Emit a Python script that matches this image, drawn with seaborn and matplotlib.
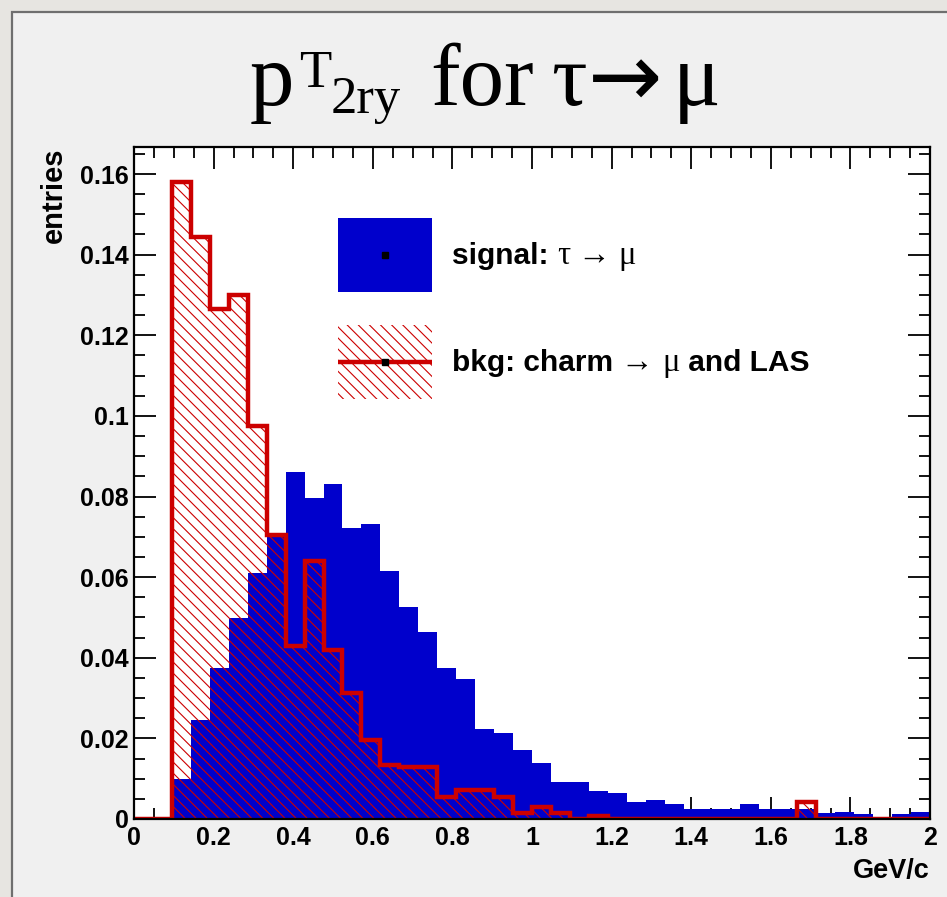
import numpy as np
import pandas as pd
import matplotlib
matplotlib.use("Agg")
import matplotlib.pyplot as plt
import seaborn as sns
from matplotlib.patches import Rectangle
from matplotlib.lines import Line2D
from matplotlib.ticker import MultipleLocator, FixedLocator, FuncFormatter

# ---------------- data ----------------
n_bins = 42
x_range = (0.0, 2.0)

signal = [0.0, 0.0, 0.0099, 0.0246, 0.0375, 0.0498, 0.0610, 0.0700, 0.0862, 0.0797,
          0.0831, 0.0723, 0.0732, 0.0615, 0.0527, 0.0463, 0.0375, 0.0347, 0.0223, 0.0213,
          0.0170, 0.0140, 0.0093, 0.0093, 0.0070, 0.0065, 0.0041, 0.0047, 0.0036, 0.0024,
          0.0024, 0.0024, 0.0036, 0.0024, 0.0024, 0.0024, 0.0014, 0.0018, 0.0012, 0.0,
          0.0012, 0.0018]

background = [0.0, 0.0, 0.1580, 0.1443, 0.1265, 0.1300, 0.0975, 0.0705, 0.0430, 0.0640,
              0.0418, 0.0312, 0.0195, 0.0135, 0.0128, 0.0128, 0.0055, 0.0072, 0.0072, 0.0055,
              0.0014, 0.0030, 0.0014, 0.0, 0.0008, 0.0, 0.0, 0.0, 0.0, 0.0,
              0.0, 0.0, 0.0, 0.0, 0.0, 0.0043, 0.0, 0.0, 0.0, 0.0,
              0.0, 0.0]

x_ticks = [0, 0.2, 0.4, 0.6, 0.8, 1.0, 1.2, 1.4, 1.6, 1.8, 2.0]
y_ticks = [0, 0.02, 0.04, 0.06, 0.08, 0.10, 0.12, 0.14, 0.16]
y_max = 0.1667

x_label = "GeV/c"
y_label = "entries"
# legend labels as (text, is_symbol) pieces
series_labels = [
    [("signal: ", False), ("τ", True), (" → ", True), ("μ", True)],
    [("bkg: charm ", False), ("→ ", True), ("μ", True), (" and LAS", False)],
]

# ---------------- style ----------------
BLUE = "#0000cc"
RED = "#cc0000"
HATCH = "\\\\\\"

sns.set_style("ticks")
plt.rcParams.update({
    "font.family": ["Liberation Sans", "DejaVu Sans"],
    "text.color": "black",
    "axes.labelcolor": "black",
    "xtick.color": "black",
    "ytick.color": "black",
    "hatch.linewidth": 0.8,
    "hatch.color": RED,
})

edges = np.linspace(x_range[0], x_range[1], n_bins + 1)
centers = 0.5 * (edges[:-1] + edges[1:])
df = pd.DataFrame({"pt": centers, "signal": signal, "bkg": background})

W, H = 947, 897
def fx(px):
    return px / W
def fy(py):
    return 1 - py / H

fig = plt.figure(figsize=(W / 100, H / 100), dpi=100, facecolor="#e7e5e1")
panel = Rectangle((fx(12), -0.02), 1.1, 1.02 - 12 / H, transform=fig.transFigure,
                  facecolor="#f0f0f0", edgecolor="#6f6f6f", linewidth=1.6, zorder=-5)
fig.patches.append(panel)

ax = fig.add_axes([fx(134), fy(819), 796 / W, 672 / H])
ax.set_facecolor("white")

hist_kws = dict(data=df, x="pt", bins=n_bins, binrange=x_range, element="step", ax=ax)
# signal: filled blue histogram
sns.histplot(weights="signal", fill=True, color=BLUE, facecolor=BLUE, edgecolor=BLUE,
             linewidth=0, alpha=1, **hist_kws)
# background: hatched fill
sns.histplot(weights="bkg", fill=True, color=RED, facecolor="none", edgecolor=RED,
             hatch=HATCH, linewidth=0, alpha=1, **hist_kws)
# background: outline
sns.histplot(weights="bkg", fill=False, color=RED, linewidth=3.2, alpha=1,
             solid_joinstyle="miter", **hist_kws)

ax.set_xlim(x_range)
ax.set_ylim(0, y_max)

fmt = FuncFormatter(lambda v, p: f"{v:g}")
ax.xaxis.set_major_locator(FixedLocator(x_ticks))
ax.yaxis.set_major_locator(FixedLocator(y_ticks))
ax.xaxis.set_major_formatter(fmt)
ax.yaxis.set_major_formatter(fmt)
ax.xaxis.set_minor_locator(MultipleLocator(0.05))
ax.yaxis.set_minor_locator(MultipleLocator(0.005))
ax.tick_params(which="both", direction="in", top=True, right=True, width=1.3, color="black")
ax.tick_params(which="major", length=16)
ax.tick_params(which="minor", length=8)
ax.tick_params(axis="x", which="major", pad=5, labelsize=18)
ax.tick_params(axis="y", which="major", pad=4, labelsize=18)
for lab in ax.get_xticklabels() + ax.get_yticklabels():
    lab.set_fontweight("bold")
for s in ax.spines.values():
    s.set_linewidth(1.6)
    s.set_color("black")
    s.set_visible(True)

ax.set_xlabel(x_label, loc="right", fontsize=19.5, fontweight="bold")
ax.xaxis.set_label_coords(1.0, -(858 - 819) / 672)
ax.set_ylabel(y_label, loc="top", fontsize=21, fontweight="bold")
ax.yaxis.set_label_coords((68 - 134) / 796, 1.0)

# ---------------- legend (drawn as a key box) ----------------
fig.canvas.draw()
renderer = fig.canvas.get_renderer()

box_x, box_w, box_h = 338, 94, 74
rows = [(218, "signal"), (325, "bkg")]
for (top, kind), pieces in zip(rows, series_labels):
    mid = top + box_h / 2
    if kind == "signal":
        fig.patches.append(Rectangle((fx(box_x), fy(top + box_h)), box_w / W, box_h / H,
                                     transform=fig.transFigure, facecolor=BLUE,
                                     edgecolor=BLUE, linewidth=0, zorder=3))
    else:
        fig.patches.append(Rectangle((fx(box_x), fy(top + box_h)), box_w / W, box_h / H,
                                     transform=fig.transFigure, facecolor="white",
                                     edgecolor=RED, hatch=HATCH, linewidth=0, zorder=3))
        fig.add_artist(Line2D([fx(box_x), fx(box_x + box_w)], [fy(mid), fy(mid)],
                              transform=fig.transFigure, color=RED, linewidth=3.2,
                              solid_capstyle="butt", zorder=4))
    fig.add_artist(Line2D([fx(box_x + box_w / 2)], [fy(mid)], transform=fig.transFigure,
                          marker="s", markersize=5, color="black", linestyle="none",
                          zorder=5))
    cur = 452.0
    for txt, is_sym in pieces:
        if is_sym:
            t = fig.text(fx(cur), fy(mid + 9), txt, ha="left", va="baseline", fontsize=23.5,
                         family="Liberation Serif", zorder=5)
        else:
            t = fig.text(fx(cur), fy(mid + 9), txt, ha="left", va="baseline", fontsize=21.5,
                         fontweight="bold", family="Liberation Sans", zorder=5)
        cur += t.get_window_extent(renderer).width

# ---------------- title, built from pieces ----------------
title_pieces = [
    ("p", 250, 105, 64, "Liberation Serif", "normal"),
    ("T", 299, 87, 38, "Liberation Serif", "normal"),
    ("2ry", 331, 113, 38, "Liberation Serif", "normal"),
    ("for", 430, 105, 64, "Liberation Serif", "normal"),
    ("τ", 551, 105, 64, "Liberation Serif", "normal"),
    ("→", 588, 107, 64, "DejaVu Sans", "normal"),
    ("μ", 673, 105, 64, "Liberation Serif", "normal"),
]
for txt, px, py, size, fam, wt in title_pieces:
    fig.text(fx(px), fy(py), txt, ha="left", va="baseline", fontsize=size,
             family=fam, fontweight=wt, color="black")

fig.savefig("out.png", dpi=100, facecolor=fig.get_facecolor())
